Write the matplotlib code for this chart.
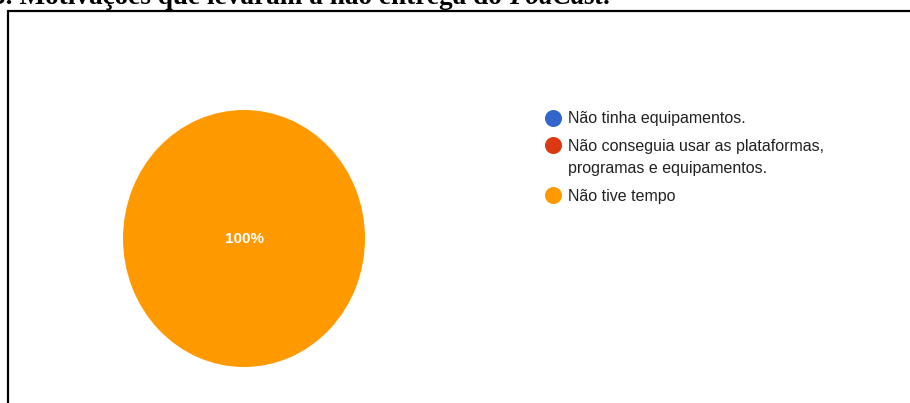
import matplotlib
matplotlib.use("Agg")
from matplotlib import pyplot as plt
from matplotlib.lines import Line2D

# Survey answers (share of responses)
labels = ["Não tinha equipamentos.",
          "Não conseguia usar as plataformas,\nprogramas e equipamentos.",
          "Não tive tempo"]
values = [0, 0, 100]
colors = ["#3366cc", "#dc3912", "#ff9900"]

title_main = "5. Motivações que levaram a não entrega do "
title_italic = "PodCast"

W, H = 910, 403
fig = plt.figure(figsize=(W / 100, H / 100), dpi=100)
fig.patch.set_facecolor("white")

# pixel helper: (x, y from top) -> figure fraction
def fx(x):
    return x / W

def fy(y):
    return 1 - y / H

# pie (slightly taller than wide)
ax = fig.add_axes([fx(123), fy(367), 242 / W, 257 / H])
wedges, texts, autotexts = ax.pie(
    values, colors=colors, startangle=90, counterclock=False,
    autopct=lambda p: "%d%%" % round(p) if p > 0 else "",
    pctdistance=0.0,
    wedgeprops=dict(linewidth=0),
    textprops=dict(color="white", fontsize=11, fontweight="bold",
                   family="Liberation Sans"))
ax.set_aspect("auto")
ax.set_xlim(-1, 1)
ax.set_ylim(-1, 1)

# legend, drawn by hand so the dot sits on the first line of each label
lg = fig.add_axes([0, 0, 1, 1])
lg.set_xlim(0, W)
lg.set_ylim(H, 0)
lg.axis("off")
y = 118
for lab, col in zip(labels, colors):
    lg.scatter([553], [y], s=150, color=col, linewidths=0)
    for i, line in enumerate(lab.split("\n")):
        lg.text(568, y + 23 * i - 6.5, line, fontsize=11.5, color="#222222",
                va="top", family="Liberation Sans")
    y += 27 + 23 * lab.count("\n")

# frame around the chart
lg.add_line(Line2D([7.5, 7.5, W + 5], [H + 5, 10.5, 10.5], color="black",
                   linewidth=1.6, solid_joinstyle="miter"))

# title (partly cut off at the top edge)
tsize = 19.6
base = fy(4.5)
t1 = fig.text(fx(-8), base, title_main, fontsize=tsize, fontweight="bold",
              family="Liberation Serif", va="baseline")
fig.canvas.draw()
bb = t1.get_window_extent()
t2 = fig.text(bb.x1 / W, base, title_italic, fontsize=tsize, fontweight="bold",
              style="italic", family="Liberation Serif", va="baseline")
bb2 = t2.get_window_extent(renderer=fig.canvas.get_renderer())
fig.text(bb2.x1 / W, base, ".", fontsize=tsize, fontweight="bold",
         family="Liberation Serif", va="baseline")

fig.savefig("out.png", dpi=100)
